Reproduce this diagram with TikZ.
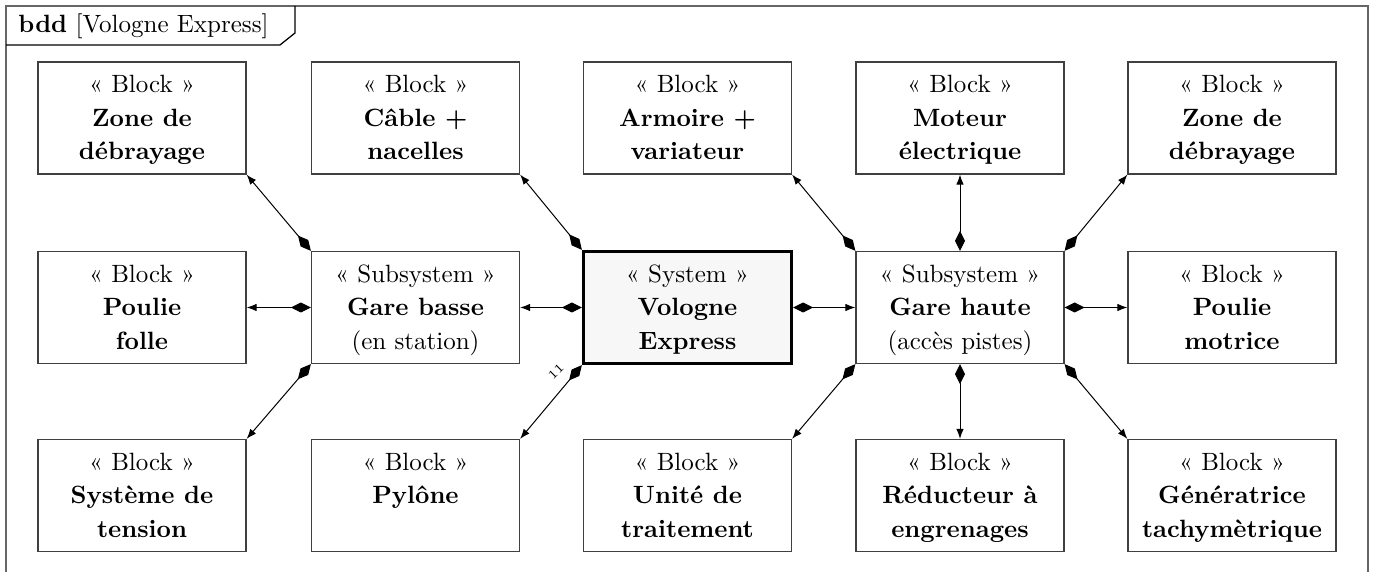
\documentclass[tikz,border=0pt]{standalone}
\usepackage{fontspec}
\usetikzlibrary{arrows.meta}
\newcommand{\blkbody}[3]{\parbox[c][44.8pt][t]{83.2pt}{\fontsize{10}{13.4}\selectfont\centering\vspace*{2.9pt}\strut#1\\#2\\#3}}
\begin{document}
\begin{tikzpicture}[x=0.4pt,y=-0.4pt,
  blockbox/.style={draw=black!75, line width=0.5pt, minimum width=83.2pt, minimum height=44.8pt, inner sep=0pt, fill=white},
  sysbox/.style={blockbox, draw=black, line width=1.3pt, fill=black!3},
  comp/.style={line width=0.4pt, {Diamond[length=8pt,width=4pt]}-{Latex[length=4pt,width=3pt]}},
]
\useasboundingbox (0,0) rectangle (1375,572);
\draw[black!60, line width=0.6pt] (6,620) -- (6,6) -- (1368,6) -- (1368,620);
\draw[black, line width=0.5pt] (6,45) -- (280,45) -- (295,33) -- (295,6);
\node[anchor=base west, inner sep=0pt] (title) at (18,33) {\textbf{bdd} [Vologne Express]};

% row 1
\node[blockbox] (zd1) at (142,118) {\blkbody{« Block »}{\textbf{Zone de}}{\textbf{débrayage}}};
\node[blockbox] (cab) at (415.5,118) {\blkbody{« Block »}{\textbf{Câble +}}{\textbf{nacelles}}};
\node[blockbox] (arm) at (687.5,118) {\blkbody{« Block »}{\textbf{Armoire +}}{\textbf{variateur}}};
\node[blockbox] (mot) at (960,118) {\blkbody{« Block »}{\textbf{Moteur}}{\textbf{électrique}}};
\node[blockbox] (zd2) at (1232,118) {\blkbody{« Block »}{\textbf{Zone de}}{\textbf{débrayage}}};
% row 2
\node[blockbox] (pf) at (142,307.5) {\blkbody{« Block »}{\textbf{Poulie}}{\textbf{folle}}};
\node[blockbox] (gb) at (415.5,307.5) {\blkbody{« Subsystem »}{\textbf{Gare basse}}{(en station)}};
\node[sysbox] (sys) at (687.5,307.5) {\blkbody{« System »}{\textbf{Vologne}}{\textbf{Express}}};
\node[blockbox] (gh) at (960,307.5) {\blkbody{« Subsystem »}{\textbf{Gare haute}}{(accès pistes)}};
\node[blockbox] (pm) at (1232,307.5) {\blkbody{« Block »}{\textbf{Poulie}}{\textbf{motrice}}};
% row 3
\node[blockbox] (st) at (142,495.5) {\blkbody{« Block »}{\textbf{Système de}}{\textbf{tension}}};
\node[blockbox] (pyl) at (415.5,495.5) {\blkbody{« Block »}{\textbf{Pylône}}{}};
\node[blockbox] (ut) at (687.5,495.5) {\blkbody{« Block »}{\textbf{Unité de}}{\textbf{traitement}}};
\node[blockbox] (red) at (960,495.5) {\blkbody{« Block »}{\textbf{Réducteur à}}{\textbf{engrenages}}};
\node[blockbox] (gen) at (1232,495.5) {\blkbody{« Block »}{\textbf{Génératrice}}{\textbf{tachymètrique}}};

% connectors
\draw[comp] (sys.west) -- (gb.east);
\draw[comp] (sys.east) -- (gh.west);
\draw[comp] (sys.north west) -- (cab.south east);
\draw[comp] (sys.south west) -- (pyl.north east);
\draw[comp] (gb.north west) -- (zd1.south east);
\draw[comp] (gb.west) -- (pf.east);
\draw[comp] (gb.south west) -- (st.north east);
\draw[comp] (gh.north west) -- (arm.south east);
\draw[comp] (gh.north) -- (mot.south);
\draw[comp] (gh.north east) -- (zd2.south west);
\draw[comp] (gh.east) -- (pm.west);
\draw[comp] (gh.south west) -- (ut.north east);
\draw[comp] (gh.south) -- (red.north);
\draw[comp] (gh.south east) -- (gen.north west);
\node[font=\tiny, rotate=45, inner sep=0pt] (mult) at (556,372) {11};
\end{tikzpicture}
\end{document}
